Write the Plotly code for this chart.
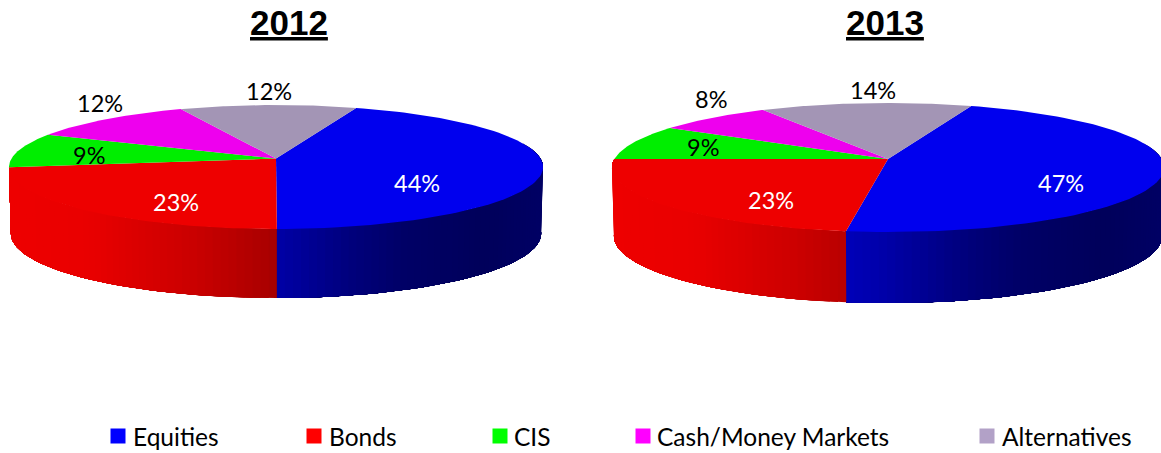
import numpy as np
import plotly.graph_objects as go

CATEGORIES = ["Equities", "Bonds", "CIS", "Cash/Money Markets", "Alternatives"]
YEARS = ["2012", "2013"]
VALUES_2012 = [44.4, 22.8, 9.0, 11.6, 12.2]
VALUES_2013 = [46.6, 22.9, 8.75, 7.75, 14.05]

TOP_COLORS = [(0, 0, 238), (238, 0, 0), (0, 238, 0), (238, 0, 238), (163, 149, 181)]
KEY_COLORS = ["#0000FF", "#FF0000", "#00FF00", "#FF00FF", "#B2A1C7"]
LABEL_COLORS = ["white", "white", "black", "black", "black"]

PIES = [
    dict(year="2012", values=VALUES_2012, cx=276, cy=158.5, B=264.5, A=60.8, k=0.137, d=66, start=20,
         title_x=289, labels=[(417, 183), (176, 202), (89, 155), (100, 103), (269, 91)]),
    dict(year="2013", values=VALUES_2013, cx=888, cy=159, B=273.6, A=63.4, k=0.132, d=68, start=20,
         title_x=885, labels=[(1061, 183), (771, 200), (703, 147), (711, 99), (873, 90)]),
]
KEY_X = [118, 314, 500, 643, 987]
KEY_TEXT_X = [131, 327, 512, 655, 1000]
SANS = "Lato"


def project(p, a, r=1.0):
    rad = np.radians(a)
    u, v = r * np.sin(rad), -r * np.cos(rad)
    w = 1 - p["k"] * v
    return p["cx"] + p["B"] * u / w, p["cy"] + p["A"] * v / w


def project_base(p, a):
    x, y = project(p, a)
    v = -np.cos(np.radians(a))
    return p["cx"] + (x - p["cx"]) * 0.993, y + p["d"] + 3 * v


def shade(x, p):
    t = (x - p["cx"]) / p["B"]
    return np.interp(t, [-1, -0.7, -0.3, 0, 0.3, 0.5, 0.8, 1],
                     [1, 0.98, 0.85, 0.71, 0.52, 0.43, 0.38, 0.42])


fig = go.Figure()


def poly(xs, ys, color):
    fig.add_trace(go.Scatter(x=xs, y=ys, mode="lines", fill="toself", fillcolor=color,
                             line=dict(width=0), showlegend=False, hoverinfo="skip"))


for p in PIES:
    vals = np.array(p["values"], dtype=float)
    edges = p["start"] + np.concatenate([[0], np.cumsum(vals / vals.sum() * 360)])
    # side wall: each strip reaches the slice end and the next one paints over it, so no seams show
    for i, c in enumerate(TOP_COLORS):
        if edges[i] > 255:
            continue
        lo, hi = max(edges[i], 75), min(edges[i + 1], 285)
        if hi <= lo:
            continue
        steps = np.linspace(lo, hi, max(2, int((hi - lo) / 1.5) + 1))
        for a0 in steps[:-1]:
            sub = np.linspace(a0, hi, max(3, int((hi - a0) / 2) + 2))
            tx, ty = project(p, sub)
            bx, by = project_base(p, sub)
            s = float(shade(project(p, a0)[0], p))
            col = "rgb(%d,%d,%d)" % tuple(round(ch * s) for ch in c)
            poly(np.concatenate([tx, bx[::-1]]), np.concatenate([ty, by[::-1]]), col)
    # top face
    for i, c in enumerate(TOP_COLORS):
        arc = np.linspace(edges[i], edges[i + 1], 90)
        ax, ay = project(p, arc)
        poly(np.concatenate([[p["cx"]], ax, [p["cx"]]]), np.concatenate([[p["cy"]], ay, [p["cy"]]]),
             "rgb(%d,%d,%d)" % c)
    # percent labels
    for i, (lx, ly) in enumerate(p["labels"]):
        fig.add_annotation(x=lx, y=ly, text="%d%%" % round(vals[i]), showarrow=False,
                           font=dict(family=SANS, size=23.5, color=LABEL_COLORS[i]))
    fig.add_annotation(x=p["title_x"], y=22, text="<b><u>%s</u></b>" % p["year"], showarrow=False,
                       font=dict(family="Liberation Sans", size=35, color="black"))

# category key
for name, col, kx, tx in zip(CATEGORIES, KEY_COLORS, KEY_X, KEY_TEXT_X):
    fig.add_trace(go.Scatter(x=[kx], y=[436], mode="markers", name=name, showlegend=False,
                             marker=dict(symbol="square", size=15, color=col), hoverinfo="name"))
    fig.add_annotation(x=tx, y=436, text=name, showarrow=False, xanchor="left",
                       font=dict(family=SANS, size=24.5, color="black"))

fig.update_layout(
    width=1161, height=453, margin=dict(l=0, r=0, t=0, b=0),
    paper_bgcolor="white", plot_bgcolor="white", showlegend=False,
    xaxis=dict(range=[0, 1161], visible=False, fixedrange=True),
    yaxis=dict(range=[453, 0], visible=False, fixedrange=True),
)
fig.write_html("out.html", config={"displayModeBar": False},
               post_script="document.body.style.margin='0';document.body.style.overflow='hidden';")
